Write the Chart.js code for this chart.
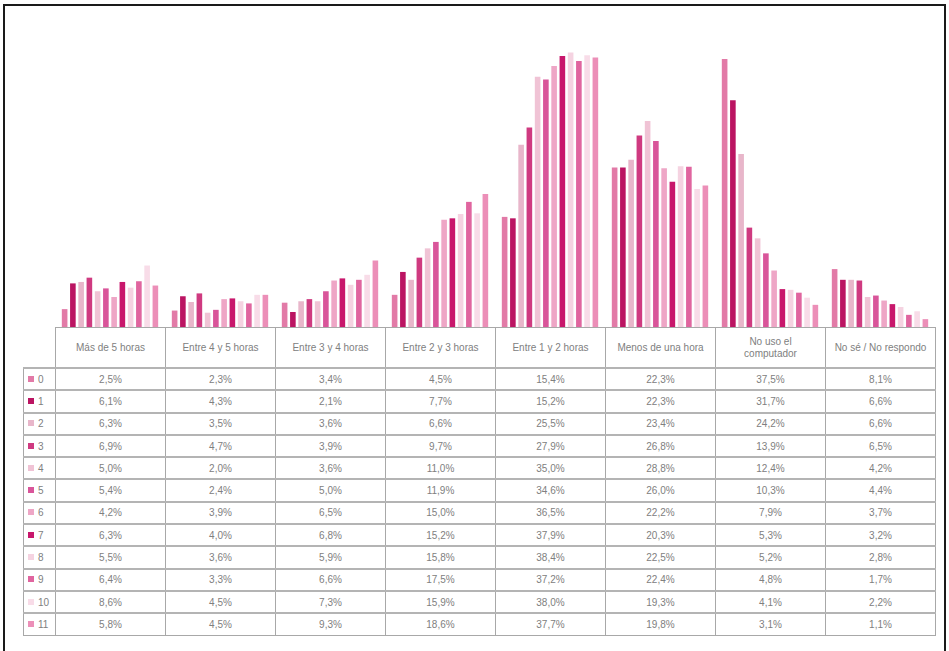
<!DOCTYPE html>
<html>
<head>
<meta charset="utf-8">
<script src="https://cdn.jsdelivr.net/npm/chart.js@4/dist/chart.umd.min.js"></script>
<style>
  body { margin: 0; background: #fff; width: 949px; height: 651px; overflow: hidden; position: relative; font-family: "Liberation Sans", Arial, sans-serif; }
  #frame { position: absolute; left: 3px; top: 4px; width: 939px; height: 660px; border: 2px solid #1a1a1a; }
  #wrap { position: absolute; left: 55px; top: 41px; width: 880px; height: 286px; }
  table { position: absolute; left: 23px; top: 327px; border-collapse: collapse; table-layout: fixed; font-size: 10px; color: #808080; }
  td { border: 1px solid #a8a8a8; text-align: center; height: 20.3px; padding: 0; white-space: nowrap; }
  tr + tr td { border-top: 2px solid #b4b4b4; }
  tr.head td { height: 39px; white-space: normal; line-height: 12px; }
  tr.head td.blank { border: none; border-right: 1px solid #a8a8a8; }
  td.leg { text-align: left; padding-left: 4px; }
  td.leg span { display: inline-block; width: 6px; height: 6px; margin-right: 4px; vertical-align: 1px; }
</style>
</head>
<body>
<div id="frame"></div>
<div id="wrap"><canvas id="chart"></canvas></div>
<table id="tabla"></table>
<script>
const categorias = ["Más de 5 horas", "Entre 4 y 5 horas", "Entre 3 y 4 horas", "Entre 2 y 3 horas",
  "Entre 1 y 2 horas", "Menos de una hora", "No uso el computador", "No sé / No respondo"];
const nombres = ["0", "1", "2", "3", "4", "5", "6", "7", "8", "9", "10", "11"];

const serie0  = [2.5, 2.3, 3.4, 4.5, 15.4, 22.3, 37.5, 8.1];
const serie1  = [6.1, 4.3, 2.1, 7.7, 15.2, 22.3, 31.7, 6.6];
const serie2  = [6.3, 3.5, 3.6, 6.6, 25.5, 23.4, 24.2, 6.6];
const serie3  = [6.9, 4.7, 3.9, 9.7, 27.9, 26.8, 13.9, 6.5];
const serie4  = [5.0, 2.0, 3.6, 11.0, 35.0, 28.8, 12.4, 4.2];
const serie5  = [5.4, 2.4, 5.0, 11.9, 34.6, 26.0, 10.3, 4.4];
const serie6  = [4.2, 3.9, 6.5, 15.0, 36.5, 22.2, 7.9, 3.7];
const serie7  = [6.3, 4.0, 6.8, 15.2, 37.9, 20.3, 5.3, 3.2];
const serie8  = [5.5, 3.6, 5.9, 15.8, 38.4, 22.5, 5.2, 2.8];
const serie9  = [6.4, 3.3, 6.6, 17.5, 37.2, 22.4, 4.8, 1.7];
const serie10 = [8.6, 4.5, 7.3, 15.9, 38.0, 19.3, 4.1, 2.2];
const serie11 = [5.8, 4.5, 9.3, 18.6, 37.7, 19.8, 3.1, 1.1];
const series = [serie0, serie1, serie2, serie3, serie4, serie5, serie6, serie7, serie8, serie9, serie10, serie11];

const colores = ["#e27aa7", "#bb1462", "#e8b6ca", "#cf3a80", "#f0c3d5", "#d9559a",
  "#eea6c6", "#c8176c", "#f5d3e1", "#e0659f", "#f8dce8", "#ec8fb8"];

new Chart(document.getElementById("chart"), {
  type: "bar",
  data: {
    labels: categorias,
    datasets: series.map((data, i) => ({
      label: nombres[i],
      data,
      backgroundColor: colores[i],
      categoryPercentage: 0.9,
      barPercentage: 0.68
    }))
  },
  options: {
    responsive: true,
    maintainAspectRatio: false,
    animation: false,
    layout: { padding: 0 },
    plugins: { legend: { display: false }, tooltip: { enabled: false } },
    scales: {
      x: { display: false },
      y: { display: false, min: 0, max: 40 }
    }
  }
});

// tabla de datos
const fmt = v => v.toFixed(1).replace(".", ",") + "%";
let html = '<colgroup><col style="width:32px">' + categorias.map(() => '<col style="width:110px">').join("") + '</colgroup>';
html += '<tr class="head"><td class="blank"></td>' +
  categorias.map(c => '<td>' + (c === "No uso el computador" ? "No uso el<br>computador" : c) + '</td>').join("") + '</tr>';
series.forEach((s, i) => {
  html += '<tr><td class="leg"><span style="background:' + colores[i] + '"></span>' + nombres[i] + '</td>' +
    s.map(v => '<td>' + fmt(v) + '</td>').join("") + '</tr>';
});
document.getElementById("tabla").innerHTML = html;
</script>
</body>
</html>
